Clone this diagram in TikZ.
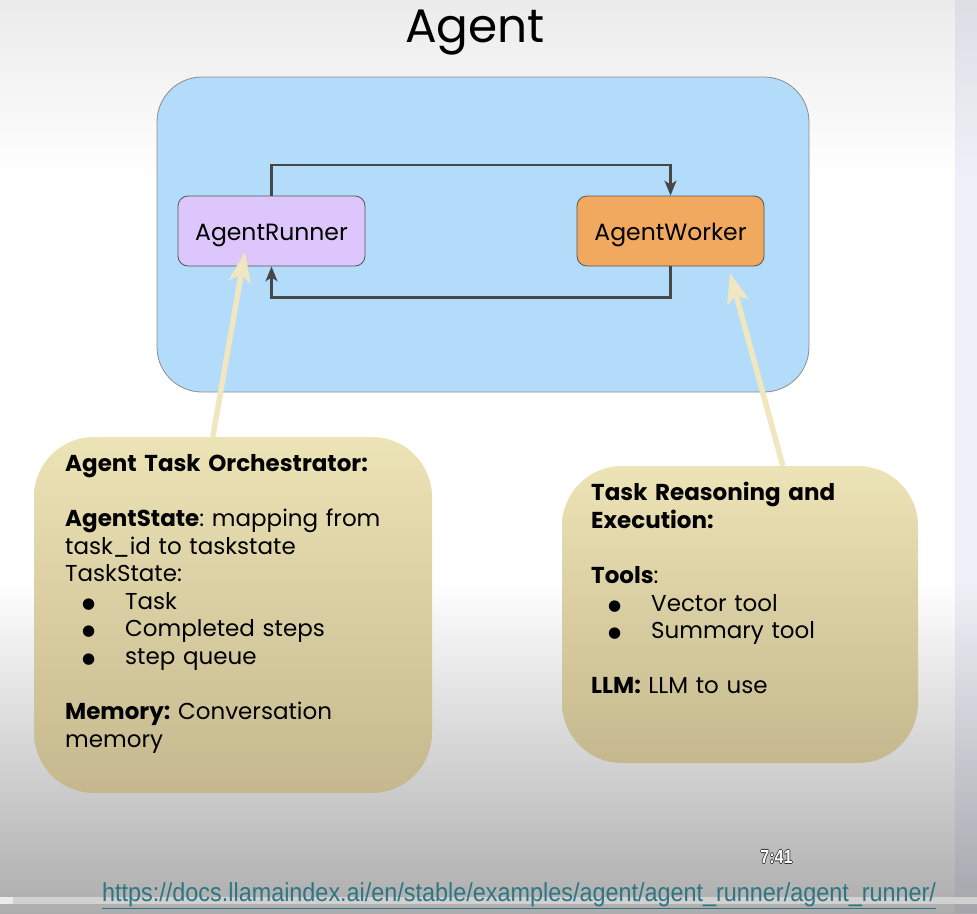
\documentclass[tikz,border=0pt]{standalone}
\usepackage{fontspec}
\setmainfont{Poppins}
\newfontfamily\symfont{DejaVu Sans}
\newfontfamily\arialfont{Liberation Sans}
\usetikzlibrary{arrows.meta}
\definecolor{bgtop}{HTML}{EBEBEB}
\definecolor{bgbot}{HTML}{ADADAD}
\definecolor{agentblue}{HTML}{B3DCFB}
\definecolor{runnerfill}{HTML}{DCC6FC}
\definecolor{workerfill}{HTML}{F0A95F}
\definecolor{boxborder}{HTML}{555555}
\definecolor{connclr}{HTML}{474747}
\definecolor{hlclr}{HTML}{F0E6C0}
\definecolor{notetop}{HTML}{ECE3B6}
\definecolor{notebot}{HTML}{C5B88E}
\definecolor{urlclr}{HTML}{2E7582}
\newcommand{\bulletitem}[1]{\hspace*{17pt}\makebox[43pt][l]{\raisebox{1pt}{\symfont\fontsize{15}{15}\selectfont ●}}#1}
\newcommand{\outlinetext}[1]{%
  \makebox[0pt][l]{\color{black!80}\hspace*{-0.9pt}#1}%
  \makebox[0pt][l]{\color{black!80}\hspace*{0.9pt}#1}%
  \makebox[0pt][l]{\color{black!80}\raisebox{0.9pt}{#1}}%
  \makebox[0pt][l]{\color{black!80}\raisebox{-0.9pt}{#1}}%
  {\color{white}#1}}
\tikzset{
  procbox/.style={draw=boxborder, line width=0.8pt, rounded corners=10pt, minimum width=187pt, minimum height=70pt, inner sep=0pt, text height=22pt, text depth=4pt, font=\fontsize{23.5}{26}\selectfont},
  conn/.style={draw=connclr, line width=2.2pt, -{Stealth[length=15pt,width=12pt,inset=4pt]}},
  hlarrow/.style={draw=hlclr, line width=5.5pt, -{Stealth[length=30pt,width=22pt,inset=7pt]}},
  notebox/.style={rounded corners=60pt, top color=notetop, bottom color=notebot, inner sep=0pt},
  notetext/.style={anchor=north west, inner sep=0pt, align=left, text width=370pt, font=\fontsize{23}{27.6}\selectfont\frenchspacing}
}
\begin{document}
\begin{tikzpicture}[x=1pt,y=-1pt]
\useasboundingbox (0,0) rectangle (977,913);
% background
\fill[top color=bgtop, bottom color=white] (0,0) rectangle (977,180);
\fill[white] (0,180) rectangle (977,580);
\fill[top color=white, bottom color=bgbot] (0,580) rectangle (977,913);
\fill[black!30!blue!60!gray, opacity=0.07] (955,0) rectangle (977,913);
\fill[black!18] (0,897) rectangle (977,904);
\fill[black!8] (0,897) rectangle (13,904);
% title
\node (title) at (475,33) {\fontsize{47}{50}\selectfont Agent};
% agent box
\node[draw=black!45, line width=0.8pt, fill=agentblue, rounded corners=45pt, minimum width=652pt, minimum height=315pt, inner sep=0pt] (agentbox) at (483,234.5) {};
\node[procbox, fill=runnerfill] (runner) at (271.5,231) {AgentRunner};
\node[procbox, fill=workerfill] (worker) at (670.5,231) {AgentWorker};
\draw[conn] (runner.north) -- ++(0,-31) -| (worker.north);
\draw[conn] (worker.south) -- ++(0,31) -| (runner.south);
% note boxes
\node[notebox, minimum width=398pt, minimum height=356pt] (orch) at (233,615) {};
\node[notebox, minimum width=356pt, minimum height=297pt] (reason) at (740,614.5) {};
\coordinate (runnertip) at (245,252);
\coordinate (workertip) at (730,273);
\draw[hlarrow] ([xshift=179pt]orch.north west) -- (runnertip);
\draw[hlarrow] ([xshift=221pt]reason.north west) -- (workertip);
\node[notetext] (orchtext) at (65,454) {%
\textbf{Agent Task Orchestrator:}\\
\mbox{}\\
\textbf{AgentState}: mapping from\\
task\_id to taskstate\\
TaskState:\\
\bulletitem{Task}\\
\bulletitem{Completed steps}\\
\bulletitem{step queue}\\
\mbox{}\\
\textbf{Memory:} Conversation\\
memory};
\node[notetext] (reasontext) at (591,482) {%
\textbf{Task Reasoning and}\\
\textbf{Execution:}\\
\mbox{}\\
\textbf{Tools}:\\
\bulletitem{Vector tool}\\
\bulletitem{Summary tool}\\
\mbox{}\\
\textbf{LLM:} LLM to use};
% footer
\node[anchor=center, inner sep=0pt] (stamp) at (776.5,857) {\arialfont\bfseries\fontsize{19}{20}\selectfont\scalebox{0.85}[1]{\outlinetext{7:41}}};
\node[anchor=base west, inner sep=0pt, text=urlclr] (url) at (102,901) {\arialfont\fontsize{26}{28}\selectfont\scalebox{0.90}[1]{\underline{https://docs.llamaindex.ai/en/stable/examples/agent/agent\_runner/agent\_runner/}}};
\end{tikzpicture}
\end{document}
